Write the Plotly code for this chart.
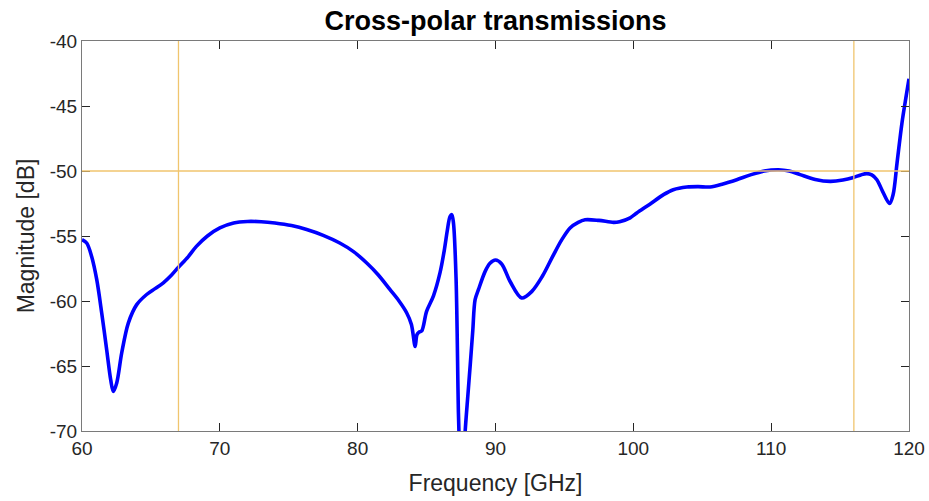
import plotly.graph_objects as go

freq_ghz = [
    60.0, 60.34, 60.7, 61.07, 61.43, 61.79, 62.08, 62.27, 62.52, 62.88, 63.36, 63.97,
    64.69, 65.3, 65.9, 66.5, 67.0, 67.7, 68.3, 69.1, 70.0, 71.0, 72.0,
    73.0, 74.0, 75.2, 76.3, 77.5, 78.7, 79.7, 80.66, 81.5, 82.35, 83.0, 83.56,
    83.9, 84.17, 84.3, 84.45, 84.65, 85.0, 85.5, 85.98, 86.3, 86.5, 86.7, 86.83,
    86.95, 87.14, 87.31, 87.4, 87.55, 87.7, 87.8, 88.0, 88.16, 88.35, 88.52, 88.76,
    89.25, 89.6, 90.0, 90.45, 91.06, 91.9, 92.64, 93.4, 94.15, 94.8,
    95.41, 96.0, 96.5, 97.5, 98.56, 99.0, 99.77, 100.25, 101.2, 102.19, 102.9, 103.88,
    104.7, 105.57, 106.5, 107.5, 108.5, 109.5, 110.53, 111.3, 112.1, 113.2, 114.28, 115.2,
    115.97, 116.5, 116.94, 117.3, 117.67, 118.1, 118.59, 118.85, 119.13, 119.49, 119.8, 120.0,
]
magnitude_db = [
    -55.28, -55.54, -56.57, -58.36, -60.92, -63.75, -66.05, -66.95, -66.3, -64.0, -61.7, -60.28,
    -59.5, -59.05, -58.6, -58.0, -57.4, -56.6, -55.8, -55.0, -54.38, -54.0, -53.88,
    -53.9, -54.0, -54.2, -54.5, -54.95, -55.54, -56.2, -57.08, -58.0, -59.13, -60.0, -60.92,
    -61.8, -63.5, -62.6, -62.4, -62.3, -60.8, -59.6, -57.8, -56.0, -54.6, -53.5, -53.36,
    -54.0, -58.3, -68.6, -72.0, -76.0, -72.0, -70.0, -67.2, -65.0, -62.3, -59.9, -59.13,
    -57.72, -57.1, -56.85, -57.15, -58.5, -59.77, -59.26, -58.1, -56.57, -55.3,
    -54.38, -53.95, -53.75, -53.8, -53.95, -53.9, -53.6, -53.23, -52.55, -51.82, -51.44, -51.23,
    -51.2, -51.23, -51.0, -50.67, -50.3, -50.0, -49.9, -50.0, -50.28, -50.65, -50.8, -50.7,
    -50.5, -50.3, -50.2, -50.3, -50.67, -51.6, -52.5, -51.8, -49.4, -46.3, -44.2, -42.9,
]

ref_freqs = [67, 116]
ref_levels = [-50]

x_ticks = [60, 70, 80, 90, 100, 110, 120]
y_ticks = [-70, -65, -60, -55, -50, -45, -40]

fig = go.Figure()
fig.add_trace(go.Scatter(
    x=freq_ghz, y=magnitude_db, mode="lines",
    line=dict(color="#0000FF", width=3.6, shape="spline", smoothing=0.9),
    showlegend=False,
))

ref_color = "#F0C56E"
for fx in ref_freqs:
    fig.add_shape(type="line", xref="x", yref="paper", x0=fx, x1=fx, y0=0, y1=1,
                  line=dict(color=ref_color, width=1.3), layer="above")
for ly in ref_levels:
    fig.add_shape(type="line", xref="paper", yref="y", x0=0, x1=1, y0=ly, y1=ly,
                  line=dict(color=ref_color, width=1.3), layer="above")

font_family = "Liberation Sans, Arial, Helvetica, sans-serif"
axis_common = dict(
    showgrid=False, zeroline=False, showline=True, linecolor="#7a7a7a", linewidth=1,
    mirror="ticks", ticks="inside", ticklen=8, tickwidth=1, tickcolor="#262626",
    tickfont=dict(family=font_family, size=19, color="#262626"),
    automargin=False,
)

fig.update_layout(
    width=929, height=501, autosize=False,
    margin=dict(l=82, r=20, t=41, b=70),
    paper_bgcolor="white", plot_bgcolor="white",
    title=dict(text="<b>Cross-polar transmissions</b>", x=0.5, xref="paper",
               y=1 - 21 / 501, yref="container", yanchor="middle", xanchor="center",
               font=dict(family=font_family, size=27, color="#000000")),
    xaxis=dict(range=[60, 120], tickvals=x_ticks, ticktext=[str(v) for v in x_ticks],
               title=dict(text="Frequency [GHz]", standoff=17,
                          font=dict(family=font_family, size=23, color="#262626")),
               **axis_common),
    yaxis=dict(range=[-70, -40], tickvals=y_ticks, ticktext=[str(v) for v in y_ticks],
               title=dict(text="Magnitude [dB]", standoff=8,
                          font=dict(family=font_family, size=23, color="#262626")),
               **axis_common),
)

fig.write_html("out.html")
